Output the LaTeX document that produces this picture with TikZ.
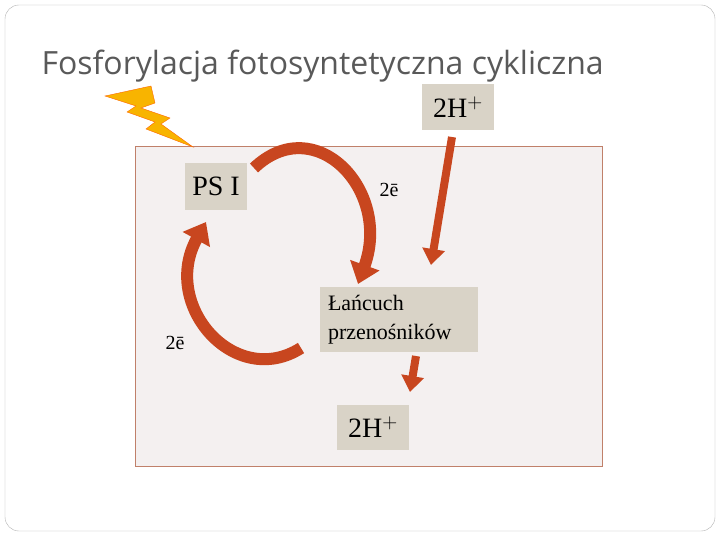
\documentclass[tikz,border=0pt]{standalone}
\usepackage{fontspec}
\setmainfont{Liberation Serif}
\newfontfamily\titlefont{Open Sans}
\usetikzlibrary{arrows.meta}
\definecolor{boxfill}{HTML}{D9D3C7}
\definecolor{arr}{HTML}{C8461F}
\definecolor{panel}{HTML}{F4F0F0}
\definecolor{panelline}{HTML}{C0806A}
\definecolor{bolt}{HTML}{F8B400}
\tikzset{
  lbl/.style={fill=boxfill, inner sep=0pt},
  bigfont/.style={font=\fontsize{28}{30}\selectfont},
  bigarrow/.style={draw=arr, line width=12pt, -{Triangle[width=30pt,length=20pt]}},
  straightarrow/.style={draw=arr, line width=8pt, -{Triangle[width=22pt,length=16pt]}},
}
\begin{document}
\begin{tikzpicture}[x=1pt,y=-1pt]
\useasboundingbox (0,0) rectangle (720,540);
\draw[gray!60, rounded corners=14pt] (5,5) rectangle (715,531);
\node[anchor=base west, text=black!65, font=\titlefont\fontsize{32}{34}\selectfont] (title) at (38,75) {Fosforylacja fotosyntetyczna cykliczna};
\node[draw=panelline, fill=panel, minimum width=467pt, minimum height=320pt, inner sep=0pt, anchor=north west] (panel) at (135,146) {};
\draw[fill=bolt, draw=orange!80!red] (105,96) -- (151,86) -- (155,103) -- (141,108) -- (170,118) -- (161,124) -- (193,147) -- (146,129) -- (155,122) -- (127,112) -- (136,106) -- cycle;
\node[lbl, bigfont, minimum width=62pt, minimum height=47pt] (ps) at (216,186.5) {PS I};
\node[lbl, bigfont, minimum width=72pt, minimum height=46pt] (htop) at (458,107) {2H$^{+}$};
\node[lbl, minimum width=158pt, minimum height=65pt, text width=142pt, align=left, font=\fontsize{22}{29}\selectfont] (chain) at (399,319.5) {Ła\'ncuch\\przeno\'snik\'ow};
\node[lbl, bigfont, minimum width=72pt, minimum height=45pt] (hbot) at (373,427.5) {2H$^{+}$};
\node[font=\fontsize{20}{22}\selectfont] (e1) at (389,190) {2ē};
\node[font=\fontsize{20}{22}\selectfont] (e2) at (175,343) {2ē};
\coordinate (a1s) at (254,168);
\coordinate (a1e) at (358,284);
\coordinate (a2s) at (301,348);
\coordinate (a2e) at (206,222);
\draw[bigarrow] (a1s) .. controls (315,110) and (392,190) .. (a1e);
\draw[bigarrow] (a2s) .. controls (235,390) and (160,305) .. (a2e);
\coordinate (s1) at (452,137);
\coordinate (t1) at (431,265);
\coordinate (s2) at (416,356);
\coordinate (t2) at (410,392);
\draw[straightarrow] (s1) -- (t1);
\draw[straightarrow] (s2) -- (t2);
\end{tikzpicture}
\end{document}
